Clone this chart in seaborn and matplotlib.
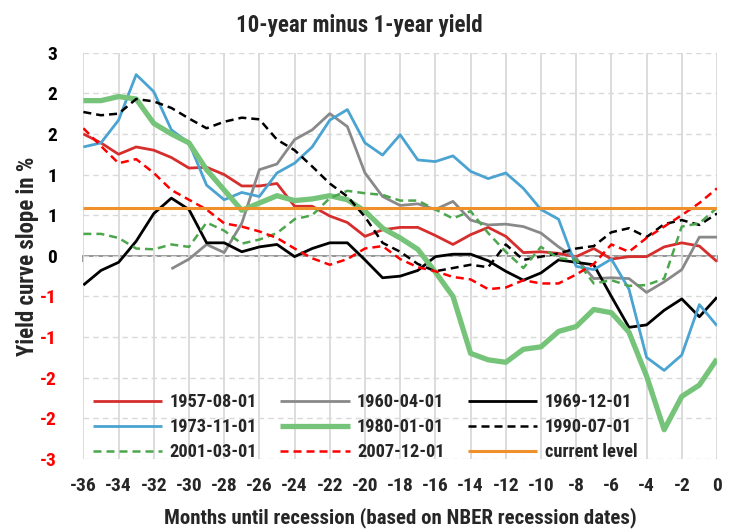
import numpy as np
import pandas as pd
import matplotlib
matplotlib.use("Agg")
import matplotlib.pyplot as plt
import seaborn as sns
from matplotlib import font_manager

# ---------------- data ----------------
months = list(range(-36, 1))

s1957 = [1.50, 1.39, 1.25, 1.34, 1.30, 1.21, 1.08, 1.09, 1.00, 0.86, 0.86, 0.89, 0.61,
         0.61, 0.49, 0.41, 0.24, 0.32, 0.35, 0.35, 0.25, 0.14, 0.26, 0.35, 0.24, 0.04,
         0.05, 0.03, -0.01, 0.09, -0.04, -0.01, -0.01, 0.11, 0.16, 0.12, -0.07]
s1960 = [np.nan, np.nan, np.nan, np.nan, np.nan, -0.16, -0.04, 0.14, 0.04, 0.40, 1.06,
         1.13, 1.43, 1.55, 1.75, 1.59, 1.02, 0.73, 0.62, 0.64, 0.57, 0.67, 0.44, 0.38,
         0.39, 0.36, 0.28, 0.11, -0.03, -0.28, -0.27, -0.28, -0.45, -0.32, -0.17, 0.23, 0.23]
s1969 = [-0.36, -0.18, -0.08, 0.18, 0.52, 0.71, 0.57, 0.16, 0.16, 0.05, 0.11, 0.14, -0.01,
         0.09, 0.16, 0.16, -0.05, -0.27, -0.25, -0.18, -0.01, 0.02, 0.02, -0.06, -0.19,
         -0.30, -0.21, -0.05, -0.08, -0.11, -0.50, -0.88, -0.85, -0.67, -0.53, -0.75, -0.51]
s1973 = [1.34, 1.39, 1.67, 2.23, 2.02, 1.55, 1.39, 0.87, 0.69, 0.78, 0.73, 1.02, 1.14,
         1.34, 1.67, 1.80, 1.39, 1.24, 1.49, 1.18, 1.16, 1.23, 1.04, 0.95, 1.02, 0.83,
         0.57, 0.45, -0.13, -0.17, -0.04, -0.41, -1.25, -1.41, -1.22, -0.60, -0.86]
s1980 = [1.91, 1.91, 1.96, 1.93, 1.63, 1.50, 1.39, 1.06, 0.81, 0.56, 0.65, 0.74, 0.68,
         0.70, 0.74, 0.69, 0.55, 0.34, 0.22, 0.08, -0.20, -0.50, -1.20, -1.28, -1.31,
         -1.15, -1.12, -0.93, -0.87, -0.66, -0.70, -0.94, -1.48, -2.14, -1.73, -1.59, -1.27]
s1990 = [1.77, 1.73, 1.75, 1.93, 1.90, 1.82, 1.69, 1.57, 1.65, 1.70, 1.68, 1.43, 1.30,
         1.10, 0.89, 0.73, 0.48, 0.16, 0.05, -0.10, -0.19, -0.15, -0.11, -0.14, 0.14,
         -0.05, -0.01, 0.03, 0.09, 0.12, 0.29, 0.34, 0.23, 0.39, 0.44, 0.38, 0.52]
s2001 = [0.27, 0.27, 0.22, 0.09, 0.08, 0.14, 0.11, 0.41, 0.31, 0.15, 0.20, 0.28, 0.45,
         0.50, 0.71, 0.80, 0.77, 0.75, 0.68, 0.68, 0.57, 0.46, 0.55, 0.28, 0.05, -0.15,
         0.11, -0.03, -0.05, -0.34, -0.30, -0.37, -0.36, -0.28, 0.36, 0.40, 0.59]
s2007 = [1.57, 1.35, 1.14, 1.19, 1.02, 0.81, 0.69, 0.57, 0.40, 0.36, 0.30, 0.22, 0.09,
         -0.03, -0.11, -0.04, 0.09, 0.12, -0.04, -0.14, -0.19, -0.26, -0.29, -0.41, -0.39,
         -0.30, -0.34, -0.34, -0.23, -0.10, 0.14, 0.05, 0.22, 0.36, 0.50, 0.65, 0.83]
current_level = 0.59

labels = ["1957-08-01", "1960-04-01", "1969-12-01", "1973-11-01", "1980-01-01",
          "1990-07-01", "2001-03-01", "2007-12-01", "current level"]
x_ticks = list(range(-36, 1, 2))
y_ticks = [-2.5, -2.0, -1.5, -1.0, -0.5, 0.0, 0.5, 1.0, 1.5, 2.0, 2.5]

# ---------------- style ----------------
sns.set_style("white")

def _w(f):
    w = f.weight
    if isinstance(w, str):
        return {"bold": 700, "heavy": 800, "black": 900, "semibold": 600,
                "demibold": 600}.get(w, 400)
    return int(w)

bold_names = {f.name for f in font_manager.fontManager.ttflist if _w(f) >= 700}
candidates = ["Liberation Sans Narrow", "Arial Narrow", "Roboto Condensed",
              "PT Sans Narrow", "Liberation Sans"]
fam = next((c for c in candidates if c in bold_names), "Liberation Sans")
plt.rcParams["font.family"] = [fam, "DejaVu Sans"]
plt.rcParams["font.weight"] = "bold"
plt.rcParams["axes.labelweight"] = "bold"

fig = plt.figure(figsize=(7.34, 5.30), dpi=100)
ax = fig.add_axes([0.1136, 0.134, 0.8632, 0.7666])

series = [s1957, s1960, s1969, s1973, s1980, s1990, s2001, s2007,
          [current_level] * len(months)]
colors = ["#d62d2d", "#898989", "#000000", "#4aa3d1", "#76c479",
          "#000000", "#4ca64c", "#ff0000", "#f0902a"]
widths = [2.0, 2.0, 2.0, 2.0, 3.8, 1.8, 1.8, 1.8, 2.2]
dashed = [False, False, False, False, False, True, True, True, False]

for vals, lab, col, lw, d in zip(series, labels, colors, widths, dashed):
    df = pd.DataFrame({"month": months, "value": vals})
    sns.lineplot(data=df, x="month", y="value", ax=ax, color=col, linewidth=lw,
                 label=lab, legend=False)
    if d:
        ax.lines[-1].set_dashes([3.2, 2.0])
    ax.lines[-1].set_solid_capstyle("butt")

ax.set_xlim(-36, 0)
ax.set_ylim(-2.5, 2.5)
ax.set_axisbelow(True)

def lab_round(v):
    r = np.sign(v) * np.floor(abs(v) + 0.5)
    return f"{int(r)}"

ax.set_xticks(x_ticks, labels=[str(t) for t in x_ticks])
ax.set_yticks(y_ticks, labels=[lab_round(v) for v in y_ticks])
for t, v in zip(ax.get_yticklabels(), y_ticks):
    t.set_color("#ff0000" if v < 0 else "black")
ax.tick_params(axis="both", length=0, labelsize=14)
ax.tick_params(axis="x", pad=13)
ax.tick_params(axis="y", pad=19)

ax.grid(axis="x", color="#d9d9d9", lw=1.3, ls="-")
ax.grid(axis="y", color="#d9d9d9", lw=1.0, ls=(0, (4, 3)))
for sp in ax.spines.values():
    sp.set_visible(False)

# zero axis line with small ticks
sec = ax.secondary_xaxis(0.5)
sec.set_xticks(x_ticks, labels=[""] * len(x_ticks))
sec.tick_params(axis="x", direction="in", length=4, width=1.2, color="#8c8c8c")
for sp in sec.spines.values():
    sp.set_color("#8c8c8c")
    sp.set_linewidth(1.3)

ax.set_xlabel("Months until recession (based on NBER recession dates)", fontsize=15,
              labelpad=9)
ax.set_ylabel("Yield curve slope in %", fontsize=16.5, labelpad=1)

fig.text(0.49, 0.952, "10-year minus 1-year yield", ha="center", va="center",
         fontsize=16.5, fontweight="bold")

# legend filled row by row (3 columns)
handles, labs = ax.get_legend_handles_labels()
order = [0, 3, 6, 1, 4, 7, 2, 5, 8]
ax.legend([handles[i] for i in order], [labs[i] for i in order],
          loc="lower left", bbox_to_anchor=(0.0147, -0.006), ncol=3, frameon=False,
          fontsize=13.2, handlelength=3.77, handletextpad=0.4, columnspacing=1.3,
          labelspacing=0.38, borderpad=0, borderaxespad=0)

fig.savefig("out.png", dpi=100)
